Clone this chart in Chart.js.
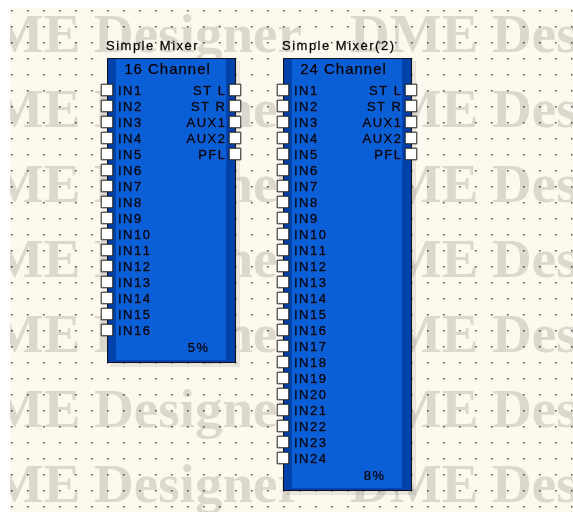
<!DOCTYPE html>
<html>
<head>
<meta charset="utf-8">
<script src="https://cdn.jsdelivr.net/npm/chart.js@4.4.1/dist/chart.umd.min.js"></script>
<style>
  html, body { margin: 0; padding: 0; background: #fff; width: 573px; height: 512px; overflow: hidden; }
  #wrap { position: absolute; left: 10px; top: 8px; width: 563px; height: 504px; }
</style>
</head>
<body>
<div id="wrap"><canvas id="myChart" width="563" height="504"></canvas></div>
<script>
// everything is in designer grid units (one unit = one grid dot)
const blockNames = ["Simple Mixer", "Simple Mixer(2)"];
const blockTitles = ["16 Channel", "24 Channel"];
const blockLoads = ["5%", "8%"];
const blockCols = [[6, 14], [17, 25]];
const blockRows = [[3, 22], [3, 30]];
const inputCounts = [16, 24];
const outputLabels = ["ST L", "ST R", "AUX1", "AUX2", "PFL"];
const firstPortRow = 5;

const buildPorts = () => {
  const ports = [];
  blockNames.forEach((name, b) => {
    for (let i = 0; i < inputCounts[b]; i++) {
      ports.push({ x: blockCols[b][0], y: firstPortRow + i });
    }
    outputLabels.forEach((label, i) => {
      ports.push({ x: blockCols[b][1], y: firstPortRow + i });
    });
  });
  return ports;
};

// text with the wide spacing of the old windows font, a bit heavier
const spacedText = (ctx, text, x, y, spacing, align) => {
  let total = 0;
  for (const ch of text) total += ctx.measureText(ch).width + spacing;
  total -= spacing;
  let cx = align === "right" ? x - total : align === "center" ? x - total / 2 : x;
  for (const ch of text) {
    ctx.fillText(ch, cx, y);
    ctx.strokeText(ch, cx, y);
    cx += ctx.measureText(ch).width + spacing;
  }
};

const designerPlugin = {
  id: "designer",
  beforeDraw(chart) {
    const { ctx, width, height, scales } = chart;
    ctx.save();
    ctx.fillStyle = "#fdf9ef";
    ctx.fillRect(0, 0, width, height);

    // watermark
    ctx.font = "bold 55px 'Liberation Serif', 'Times New Roman', serif";
    ctx.fillStyle = "#dcd8ce";
    ctx.textBaseline = "alphabetic";
    for (let row = 0; row < 8; row++) {
      for (let k = 0; k < 3; k++) {
        ctx.fillText("DME Designer", -58 + k * 398, 44 + row * 75);
      }
    }

    // grid dots
    ctx.fillStyle = "rgba(30,30,30,0.8)";
    for (let c = 0; c <= 36; c++) {
      for (let r = 0; r <= 32; r++) {
        const px = Math.round(scales.x.getPixelForValue(c));
        const py = Math.round(scales.y.getPixelForValue(r));
        ctx.fillRect(px, py, 1.5, 1.5);
      }
    }
    ctx.restore();
  },
  beforeDatasetsDraw(chart) {
    const { ctx, scales } = chart;
    ctx.save();
    blockNames.forEach((name, b) => {
      const L = scales.x.getPixelForValue(blockCols[b][0]);
      const R = scales.x.getPixelForValue(blockCols[b][1]);
      const T = scales.y.getPixelForValue(blockRows[b][0]);
      const B = scales.y.getPixelForValue(blockRows[b][1]);

      // soft shadow
      ctx.fillStyle = "rgba(120,110,90,0.14)";
      ctx.fillRect(L + 3, T + 3, R - L + 2, B - T + 2);

      ctx.fillStyle = "#0042aa";
      ctx.fillRect(L, T, R - L, B - T);
      ctx.fillStyle = "#0b5fd6";
      ctx.fillRect(L + 9, T + 1, R - L - 18, B - T - 3);
      ctx.strokeStyle = "#101018";
      ctx.lineWidth = 1;
      ctx.strokeRect(L + 0.5, T + 0.5, R - L, B - T);

      ctx.fillStyle = "#000";
      ctx.strokeStyle = "rgba(0,0,0,0.6)";
      ctx.lineWidth = 0.4;
      ctx.textBaseline = "alphabetic";
      ctx.font = "13px 'Liberation Sans', Arial, sans-serif";
      spacedText(ctx, name, L - 1, T - 8, 1.5, "left");

      ctx.font = "15px 'Liberation Sans', Arial, sans-serif";
      spacedText(ctx, blockTitles[b], (L + R) / 2 - 4, T + 16, 1, "center");

      ctx.font = "13px 'Liberation Sans', Arial, sans-serif";
      for (let i = 0; i < inputCounts[b]; i++) {
        const py = scales.y.getPixelForValue(firstPortRow + i);
        spacedText(ctx, "IN" + (i + 1), L + 11, py + 5, 1.5, "left");
      }
      outputLabels.forEach((label, i) => {
        const py = scales.y.getPixelForValue(firstPortRow + i);
        spacedText(ctx, label, R - 10, py + 5, 1.5, "right");
      });
      spacedText(ctx, blockLoads[b], R - 27, B - 10, 1.5, "right");
    });
    ctx.restore();
  }
};

const createChart = () => {
  const ctx = document.getElementById("myChart").getContext("2d");
  return new Chart(ctx, {
    type: "scatter",
    data: {
      datasets: [{
        data: buildPorts(),
        pointStyle: "rect",
        pointRadius: 8.2,
        pointHoverRadius: 8.2,
        pointBackgroundColor: "#ffffff",
        pointBorderColor: "#1a1a1a",
        pointBorderWidth: 1,
        clip: false
      }]
    },
    options: {
      responsive: false,
      animation: false,
      events: [],
      layout: { padding: 0, autoPadding: false },
      plugins: {
        legend: { display: false },
        tooltip: { enabled: false }
      },
      scales: {
        x: { type: "linear", display: false, min: -1 / 16, max: 35.125 },
        y: { type: "linear", display: false, reverse: true, min: -0.125, max: 31.375 }
      }
    },
    plugins: [designerPlugin]
  });
};

createChart();
</script>
</body>
</html>
